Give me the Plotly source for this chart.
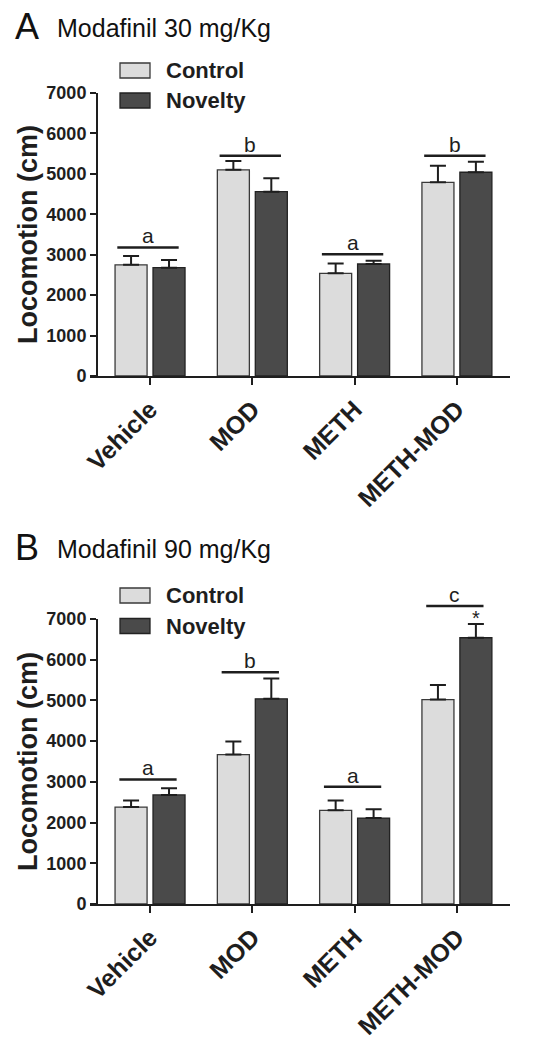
import plotly.graph_objects as go

# ---------------- data ----------------
groups = ["Vehicle", "MOD", "METH", "METH-MOD"]

a_ctrl = [2750, 5100, 2540, 4790]
a_ctrl_err = [220, 220, 240, 410]
a_nov = [2680, 4560, 2770, 5040]
a_nov_err = [190, 330, 80, 260]
a_sig_letters = ["a", "b", "a", "b"]
a_sig_y = [3180, 5450, 3010, 5450]

b_ctrl = [2380, 3670, 2300, 5020]
b_ctrl_err = [160, 320, 240, 360]
b_nov = [2680, 5040, 2110, 6540]
b_nov_err = [160, 500, 220, 340]
b_sig_letters = ["a", "b", "a", "c"]
b_sig_y = [3060, 5690, 2880, 7320]
b_star = [None, None, None, "*"]

series_names = ["Control", "Novelty"]
y_ticks = [0, 1000, 2000, 3000, 4000, 5000, 6000, 7000]
panel_titles = [("A", "Modafinil 30 mg/Kg"), ("B", "Modafinil 90 mg/Kg")]

# ---------------- style ----------------
W, H = 545, 1050
FONT = "Liberation Sans, Arial, Helvetica, sans-serif"
C_CTRL, C_CTRL_LINE = "#dcdcdc", "#3a3a3a"
C_NOV, C_NOV_LINE = "#4a4a4a", "#222222"
INK = "#1e1e1e"
BAR_W = 0.313
OFF_CTRL, OFF_NOV = -0.342, 0.029
XR = [-0.587, 3.519]
YMAX = 7000

def px(x):
    return x / W

def py(y):
    return 1 - y / H

panels = [
    dict(ctrl=a_ctrl, ce=a_ctrl_err, nov=a_nov, ne=a_nov_err, letters=a_sig_letters,
         sy=a_sig_y, star=[None] * 4, ydom=[py(376), py(93)], sx=(-0.32, 0.28),
         title_y=26, leg_y=(70.5, 100.5)),
    dict(ctrl=b_ctrl, ce=b_ctrl_err, nov=b_nov, ne=b_nov_err, letters=b_sig_letters,
         sy=b_sig_y, star=b_star, ydom=[py(904), py(619)], sx=(-0.30, 0.26),
         title_y=547, leg_y=(595.5, 626)),
]

fig = go.Figure()
shapes, annots = [], []
xpos = list(range(len(groups)))

for i, p in enumerate(panels):
    sfx = "" if i == 0 else str(i + 1)
    xa, ya = "x" + sfx, "y" + sfx
    for vals, errs, off, fc, lc, nm in [
        (p["ctrl"], p["ce"], OFF_CTRL, C_CTRL, C_CTRL_LINE, series_names[0]),
        (p["nov"], p["ne"], OFF_NOV, C_NOV, C_NOV_LINE, series_names[1]),
    ]:
        fig.add_trace(go.Bar(
            x=xpos, y=vals, offset=off, width=BAR_W, name=nm, showlegend=False,
            marker=dict(color=fc, line=dict(color=lc, width=1.3)),
            error_y=dict(type="data", array=errs, arrayminus=[0] * len(errs),
                         symmetric=False, color=INK, thickness=2, width=8),
            xaxis=xa, yaxis=ya,
        ))
    # significance lines + letters
    for j, (lt, hy) in enumerate(zip(p["letters"], p["sy"])):
        shapes.append(dict(type="line", xref=xa, yref=ya + " domain",
                           x0=j + p["sx"][0], x1=j + p["sx"][1],
                           y0=hy / YMAX, y1=hy / YMAX,
                           line=dict(color=INK, width=2.5)))
        annots.append(dict(xref=xa, yref=ya + " domain", x=j + (p["sx"][0] + p["sx"][1]) / 2,
                           y=hy / YMAX, text=lt, showarrow=False, yanchor="bottom",
                           yshift=-2, font=dict(family=FONT, size=21, color=INK)))
        if p["star"][j]:
            top = p["nov"][j] + p["ne"][j]
            annots.append(dict(xref=xa, yref=ya, x=j + OFF_NOV + BAR_W / 2, y=top,
                               text=p["star"][j], showarrow=False, yanchor="bottom",
                               yshift=-7, font=dict(family=FONT, size=20, color=INK)))
    # panel title
    letter, sub = panel_titles[i]
    annots.append(dict(xref="paper", yref="paper", x=px(13), y=py(p["title_y"]),
                       text=letter, showarrow=False, xanchor="left", yanchor="middle",
                       font=dict(family=FONT, size=36, color="#111")))
    annots.append(dict(xref="paper", yref="paper", x=px(55), y=py(p["title_y"] + 2),
                       text=sub, showarrow=False, xanchor="left", yanchor="middle",
                       font=dict(family=FONT, size=25, color="#111")))
    # legend (drawn)
    for k, (nm, fc, lc) in enumerate([(series_names[0], C_CTRL, C_CTRL_LINE),
                                       (series_names[1], C_NOV, C_NOV_LINE)]):
        cy = p["leg_y"][k]
        shapes.append(dict(type="rect", xref="paper", yref="paper",
                           x0=px(120), x1=px(150), y0=py(cy - 7.5), y1=py(cy + 7.5),
                           fillcolor=fc, line=dict(color=lc, width=1.3)))
        annots.append(dict(xref="paper", yref="paper", x=px(164), y=py(cy),
                           text="<b>" + nm + "</b>", showarrow=False, xanchor="left",
                           yanchor="middle", font=dict(family=FONT, size=22, color=INK)))

    axis_common = dict(showline=True, linecolor=INK, linewidth=2, ticks="outside",
                       tickcolor=INK, tickwidth=2, showgrid=False, zeroline=False,
                       automargin=False)
    fig.update_layout(**{
        ("xaxis" + sfx): dict(axis_common, domain=[px(90), px(510)], range=XR,
                              tickvals=xpos, ticktext=["<b>" + g + "</b>" for g in groups],
                              ticklen=7, tickangle=-45, anchor=ya,
                              tickfont=dict(family=FONT, size=25, color=INK)),
        ("yaxis" + sfx): dict(axis_common, domain=p["ydom"], range=[0, YMAX],
                              tickvals=y_ticks, ticktext=["<b>%d</b>" % t for t in y_ticks],
                              ticklen=6, anchor="free", position=px(97),
                              tickfont=dict(family=FONT, size=18, color=INK),
                              title=dict(text="<b>Locomotion (cm)</b>", standoff=0,
                                         font=dict(family=FONT, size=27, color=INK))),
    })

fig.update_layout(width=W, height=H, autosize=False,
                  margin=dict(l=0, r=0, t=0, b=0, pad=0, autoexpand=False),
                  paper_bgcolor="white", plot_bgcolor="white",
                  barmode="overlay", shapes=shapes, annotations=annots)

fig.write_html("out.html", config={"displayModeBar": False},
               post_script="document.body.style.margin='0';document.body.style.overflow='hidden';")
